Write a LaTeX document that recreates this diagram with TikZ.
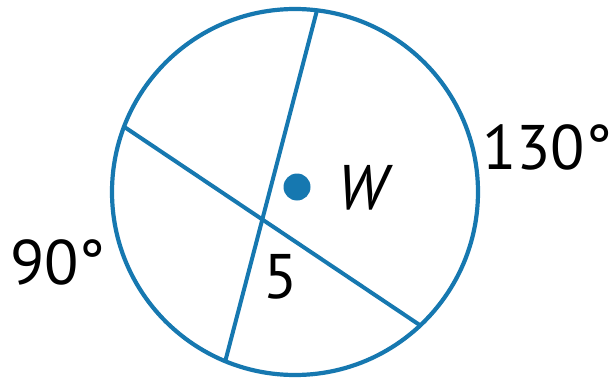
\documentclass[tikz,border=0pt]{standalone}
\usepackage{fontspec}
\setmainfont{PT Sans}
\usepackage{tikz}
\usetikzlibrary{positioning}

\definecolor{chordblue}{RGB}{22,120,176}

\begin{document}
\begin{tikzpicture}[
    x=1pt, y=1pt,
    rim/.style = {draw=chordblue, line width=4.2pt},
    chord/.style = {draw=chordblue, line width=4pt},
    centre/.style = {circle, fill=chordblue, inner sep=0pt, minimum size=27pt},
    label/.style = {inner sep=0pt, font=\fontsize{63}{65}\selectfont}
]
    \useasboundingbox (0,0) rectangle (613,384);

    % Circle and its centre
    \coordinate (O) at (295,192);
    \draw [rim] (O) circle (183);
    \node [centre] (W) at (297,197) {};

    % Chord end points on the circle
    \coordinate (top) at ([shift={(83.1:183)}]O);
    \coordinate (bottom) at ([shift={(247.6:183)}]O);
    \coordinate (left) at ([shift={(159.1:183)}]O);
    \coordinate (right) at ([shift={(-46.8:183)}]O);

    % Chords
    \draw [chord] (top) -- (bottom);
    \draw [chord] (left) -- (right);

    % Labels
    \node [label] (wname) at (362,196) {\itshape W};
    \node [label] (seg) at (281,107) {5};
    \node [label] (arcleft) at (58,122) {90°};
    \node [label] (arcright) at (547,237) {130°};
\end{tikzpicture}
\end{document}
